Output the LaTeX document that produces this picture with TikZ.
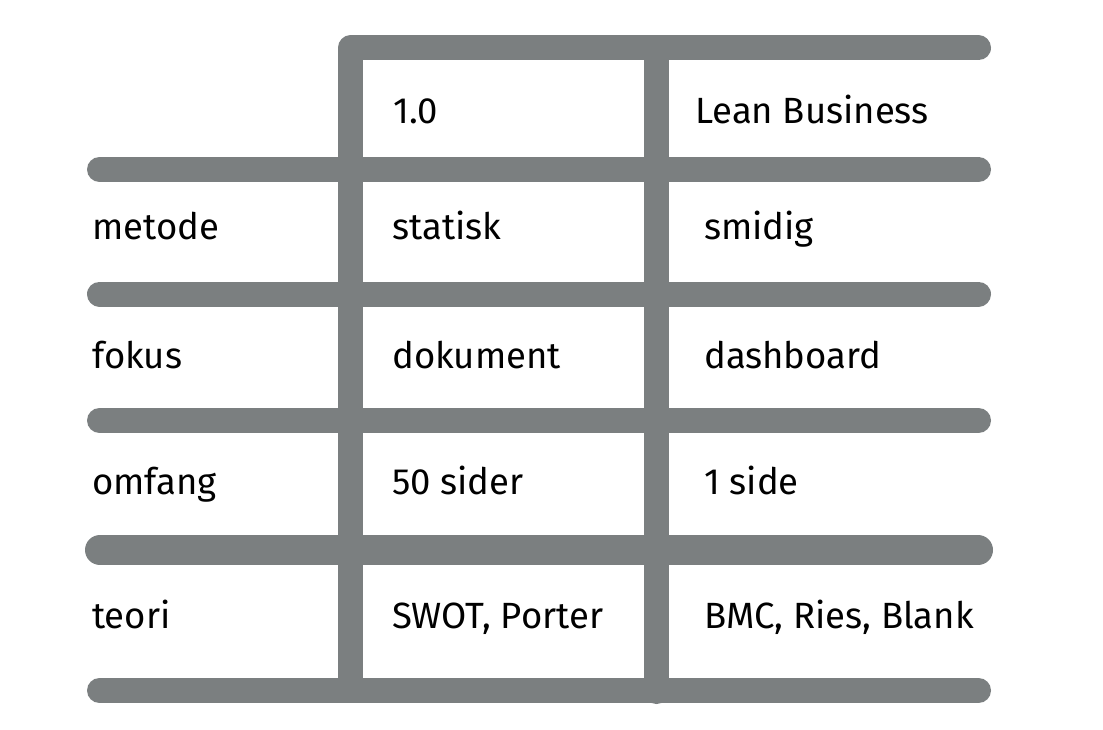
\documentclass[tikz,border=0pt]{standalone}
\usepackage{fontspec}
\setmainfont{Fira Sans}
\definecolor{barg}{RGB}{123,127,128}
\begin{document}
\begin{tikzpicture}[x=1pt,y=-1pt,
  bar/.style={draw=barg,line width=25pt,line cap=round,line join=round},
  lbl/.style={anchor=base west,inner sep=0pt,font=\fontsize{36.5}{42}\selectfont,text=black}]
\useasboundingbox (0,0) rectangle (1103,730);
% horizontal bars
\draw[bar] (99.5,169.5) -- (978.5,169.5);
\draw[bar] (99.5,294) -- (978.5,294);
\draw[bar] (99.5,420.5) -- (978.5,420.5);
\draw[bar,line width=30pt] (100,550) -- (978,550);
\draw[bar] (99.5,690.5) -- (978.5,690.5);
% frame top + first vertical
\draw[bar] (350.5,678) -- (350.5,48) -- (978.5,48);
% second vertical
\draw[bar] (656.5,48) -- (656.5,691.5);
% texts
\node[lbl] (h1) at (393,124) {1.0};
\node[lbl] (h2) at (695,124) {Lean Business};
\node[lbl] (r1) at (92,240) {metode};
\node[lbl] (r1a) at (392,240) {statisk};
\node[lbl] (r1b) at (704,240) {smidig};
\node[lbl] (r2) at (92,368) {fokus};
\node[lbl] (r2a) at (392,368) {dokument};
\node[lbl] (r2b) at (704,368) {dashboard};
\node[lbl] (r3) at (92,494) {omfang};
\node[lbl] (r3a) at (392,494) {50 sider};
\node[lbl] (r3b) at (704,494) {1 side};
\node[lbl] (r4) at (92,628) {teori};
\node[lbl] (r4a) at (392,628) {SWOT, Porter};
\node[lbl] (r4b) at (704,628) {BMC, Ries, Blank};
\end{tikzpicture}
\end{document}
